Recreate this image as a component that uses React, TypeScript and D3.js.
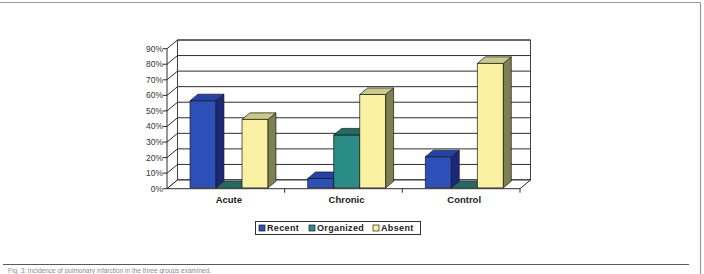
import * as d3 from "d3";
import React from "react";

const categories = ["Acute", "Chronic", "Control"];
const series = ["Recent", "Organized", "Absent"];
// share of cases per group, one array per series (order follows categories)
const recent = [0.56, 0.06, 0.2];
const organized = [0, 0.34, 0];
const absent = [0.44, 0.6, 0.8];
const yTicks = [0, 0.1, 0.2, 0.3, 0.4, 0.5, 0.6, 0.7, 0.8, 0.9];

const values: Record<string, number[]> = { Recent: recent, Organized: organized, Absent: absent };

const palette: Record<string, { front: string; top: string; side: string }> = {
  Recent: { front: "#2c50b8", top: "#2442a8", side: "#1b2778" },
  Organized: { front: "#2b8c86", top: "#226a63", side: "#1a5650" },
  Absent: { front: "#faf1a2", top: "#c9c98a", side: "#7f8052" },
};

const W = 704;
const H = 274;
// oblique depth of the 3D plot box
const DX = 10.5;
const DY = 8.7;
const FONT = "Arial, 'Liberation Sans', sans-serif";

const x = d3.scaleBand<string>().domain(categories).range([167, 520]).padding(0);
const xs = d3.scaleBand<string>().domain(series).range([22, 100]).padding(0);
const y = d3.scaleLinear().domain([0, 0.9]).range([188.7, 48.7]);

const pt = (px: number, py: number, z: number) => `${px + z * DX},${py - z * DY}`;
const poly = (pts: string[]) => pts.join(" ");

const x0 = x.range()[0];
const x1 = x.range()[1];
const y0 = y(0);
const yTop = y(0.9);

function Bar({ cat, s }: { cat: string; s: string }) {
  const v = values[s][categories.indexOf(cat)];
  const zf = 0.1;
  const zb = 0.85;
  const left = (x(cat) ?? 0) + (xs(s) ?? 0);
  const right = left + xs.bandwidth();
  const top = y(v);
  const c = palette[s];
  return (
    <g strokeWidth={0.7} stroke="#161616" strokeLinejoin="round">
      {v > 0 && (
        <polygon
          points={poly([pt(left, y0, zf), pt(right, y0, zf), pt(right, top, zf), pt(left, top, zf)])}
          fill={c.front}
        />
      )}
      {v > 0 && (
        <polygon
          points={poly([pt(right, y0, zf), pt(right, y0, zb), pt(right, top, zb), pt(right, top, zf)])}
          fill={c.side}
        />
      )}
      <polygon
        points={poly([pt(left, top, zf), pt(right, top, zf), pt(right, top, zb), pt(left, top, zb)])}
        fill={c.top}
      />
    </g>
  );
}

export default function App() {
  const grid = "#2e2e2e";
  const legendItems = [
    { s: "Recent", sx: 259, tx: 267 },
    { s: "Organized", sx: 309, tx: 317 },
    { s: "Absent", sx: 373, tx: 381 },
  ];
  const ticksX = [...categories.slice(1).map((c) => x(c) ?? 0), x1];
  return (
    <svg
      width={W}
      height={H}
      style={{ position: "absolute", left: 0, top: 0, background: "#fff" }}
      fontFamily={FONT}
    >
      {/* page frame */}
      <line x1={0} x2={700.5} y1={2.5} y2={2.5} stroke="#9a9a9a" strokeWidth={1.2} />
      <line x1={700.5} x2={700.5} y1={2.5} y2={H} stroke="#9a9a9a" strokeWidth={1.2} />
      <line x1={3} x2={689} y1={264.5} y2={264.5} stroke="#5a5a5a" strokeWidth={1} />
      <text x={8} y={272.5} fontSize={6.5} fill="#8a8a8a" fontFamily={FONT}>
        Fig. 3: Incidence of pulmonary infarction in the three groups examined.
      </text>

      {/* back wall, side wall and floor */}
      <polygon
        points={poly([pt(x0, y0, 1), pt(x1, y0, 1), pt(x1, yTop, 1), pt(x0, yTop, 1)])}
        fill="#fff"
        stroke={grid}
        strokeWidth={0.9}
      />
      {yTicks.map((t) => (
        <g key={t}>
          <line
            x1={x0 + DX}
            x2={x1 + DX}
            y1={y(t) - DY}
            y2={y(t) - DY}
            stroke={grid}
            strokeWidth={1}
          />
          <line x1={x0} x2={x0 + DX} y1={y(t)} y2={y(t) - DY} stroke={grid} strokeWidth={1} />
          <line x1={x0 - 4} x2={x0} y1={y(t)} y2={y(t)} stroke={grid} strokeWidth={1} />
          <text
            x={x0 - 4}
            y={y(t)}
            dy="0.35em"
            textAnchor="end"
            fontSize={8.5}
            fill="#333"
          >
            {d3.format(".0%")(t)}
          </text>
        </g>
      ))}
      <line x1={x0} x2={x0} y1={yTop} y2={y0} stroke={grid} strokeWidth={1} />
      <polygon
        points={poly([pt(x0, y0, 0), pt(x1, y0, 0), pt(x1, y0, 1), pt(x0, y0, 1)])}
        fill="#fff"
        stroke={grid}
        strokeWidth={1}
      />
      {ticksX.map((tx, i) => (
        <line key={i} x1={tx} x2={tx} y1={y0} y2={y0 + 4} stroke={grid} strokeWidth={1} />
      ))}

      {/* bars */}
      {categories.map((cat) => (
        <g key={cat}>
          {series.map((s) => (
            <Bar key={s} cat={cat} s={s} />
          ))}
        </g>
      ))}

      {/* category labels */}
      {categories.map((cat) => (
        <text
          key={cat}
          x={(x(cat) ?? 0) + x.bandwidth() / 2 + 3}
          y={203}
          textAnchor="middle"
          fontSize={9.5}
          fontWeight="bold"
          fill="#222"
        >
          {cat}
        </text>
      ))}

      {/* legend */}
      <rect x={255.5} y={221.5} width={165} height={13} fill="#fff" stroke="#333" strokeWidth={1} />
      {legendItems.map((it) => (
        <g key={it.s}>
          <rect
            x={it.sx}
            y={225}
            width={6}
            height={6}
            fill={palette[it.s].front}
            stroke="#222"
            strokeWidth={0.7}
          />
          <text x={it.tx} y={231.3} fontSize={9} fontWeight="bold" fill="#222" letterSpacing={0.35}>
            {it.s}
          </text>
        </g>
      ))}
    </svg>
  );
}
